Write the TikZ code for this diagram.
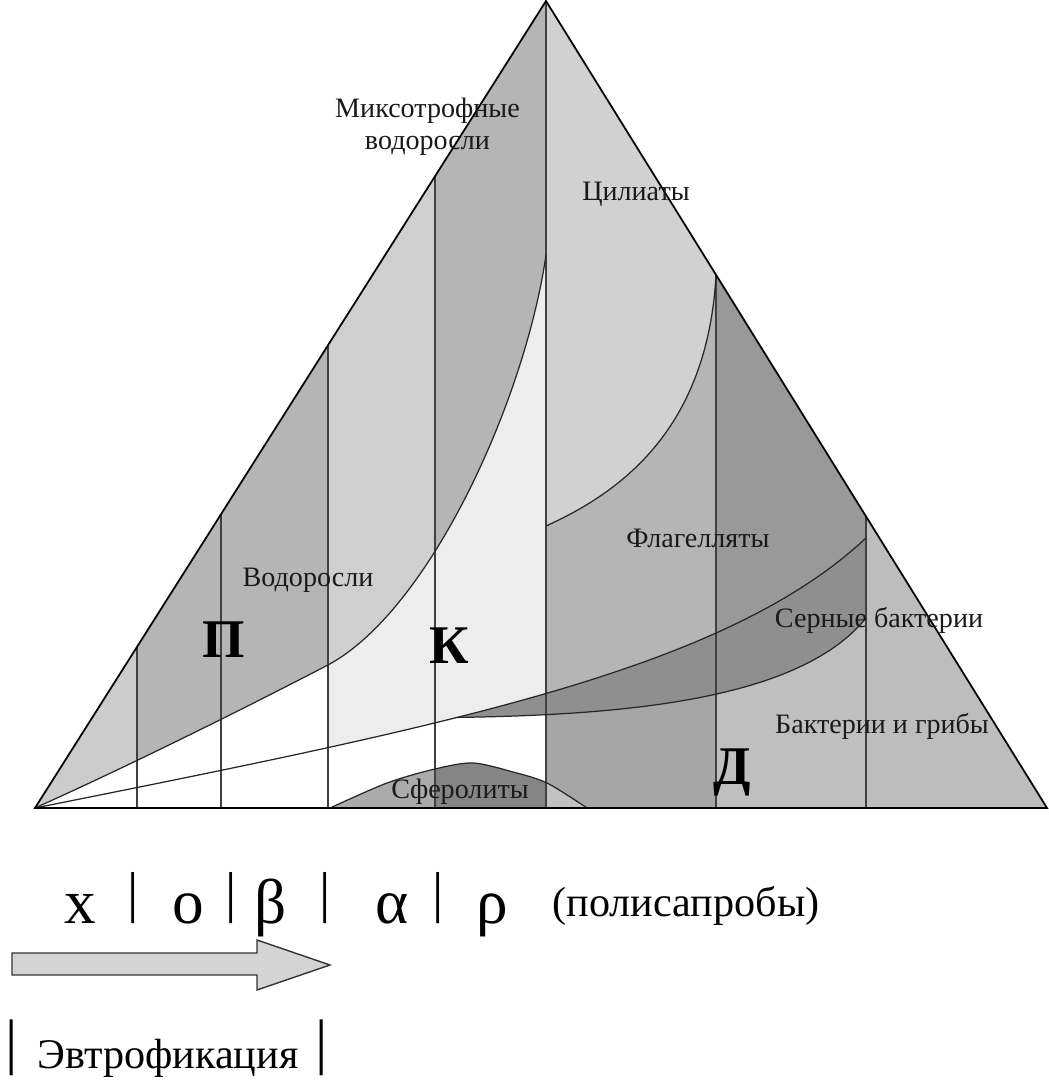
\documentclass[tikz,border=0pt]{standalone}
\usepackage{fontspec}
\setmainfont{Liberation Serif}
\tikzset{
  rim/.style={line width=1pt,black},
  sep/.style={line width=0.9pt,black!75},
  bnd/.style={line width=0.7pt,black!85},
  lbl/.style={inner sep=0pt,text=black!90,font=\fontsize{16}{18}\selectfont},
  big/.style={inner sep=0pt,font=\fontsize{31}{31}\selectfont\bfseries},
  sym/.style={inner sep=0pt,anchor=base,font=\fontsize{36}{36}\selectfont},
  bar/.style={inner sep=0pt,font=\fontsize{32}{32}\selectfont},
  ebar/.style={inner sep=0pt,font=\fontsize{35}{35}\selectfont},
}
\begin{document}
\begin{tikzpicture}
\useasboundingbox (0,0) rectangle (20.96,21.6);
\coordinate (L) at (0.70,5.44);
\coordinate (A) at (10.92,21.58);
\coordinate (R) at (20.94,5.44);
% algae curve
\coordinate (c1m) at (6.56,8.30);
\coordinate (c1e) at (10.92,16.50);
% flagellate line and sulphur band
\coordinate (c2p) at (9.0,7.1);
\coordinate (c2q) at (14.5,8.2);
\coordinate (c2e) at (17.32,10.84);
\coordinate (c3p) at (12.5,7.3);
\coordinate (c3q) at (16.0,7.6);
\coordinate (c3e) at (17.32,9.24);
% ciliate curve
\coordinate (c5s) at (10.92,11.08);
\coordinate (c5e) at (14.32,16.10);
\path (L) .. controls (c2p) and (c2q) .. (c2e) coordinate[pos=0.39] (tip);

\begin{scope}
\clip (L) -- (A) -- (R) -- cycle;
\fill[black!20] (0.70,5.44) rectangle (2.74,21.6);
\fill[black!29] (2.74,5.44) rectangle (6.56,21.6);
\fill[black!19] (6.56,5.44) rectangle (8.70,21.6);
\fill[black!29] (8.70,5.44) rectangle (14.32,21.6);
\fill[black!40] (14.32,5.44) rectangle (17.32,21.6);
\fill[black!26] (17.32,5.44) rectangle (20.96,21.6);
% ciliates
\fill[black!18] (10.92,21.6) -- (c5s) .. controls (12.4,11.75) and (14.15,13.0) .. (c5e) -- cycle;
% under the algae curve
\begin{scope}
\clip (L) .. controls (2.7,6.34) and (4.9,7.44) .. (c1m) .. controls (8.6,9.4) and (10.5,13.6) .. (c1e) -- (c1e |- L) -- cycle;
\fill[white] (0,5.44) rectangle (6.56,21.6);
\fill[black!7] (6.56,5.44) rectangle (10.92,21.6);
\end{scope}
% under the flagellate line
\begin{scope}
\clip (L) .. controls (c2p) and (c2q) .. (c2e) -- (c2e |- L) -- cycle;
\fill[white] (0,5.44) rectangle (tip |- 0,21.6);
\fill[black!44] (tip |- L) rectangle (17.32,21.6);
\end{scope}
% under the sulphur band
\begin{scope}
\clip (tip) .. controls (c3p) and (c3q) .. (c3e) -- (c3e |- L) -- (tip |- L) -- cycle;
\fill[white] (0,5.44) rectangle (10.92,21.6);
\fill[black!35] (10.92,5.44) rectangle (14.32,21.6);
\fill[black!25] (14.32,5.44) rectangle (17.32,21.6);
\end{scope}
% spherolites
\begin{scope}
\clip plot[smooth] coordinates {(6.60,5.44) (7.74,5.94) (8.70,6.22) (9.46,6.34) (10.26,6.16) (10.94,5.94) (11.74,5.44)} -- cycle;
\fill[black!33] (6.56,5.44) rectangle (8.70,7);
\fill[black!48] (8.70,5.44) rectangle (10.92,7);
\fill[black!24] (10.92,5.44) rectangle (11.80,7);
\end{scope}
\end{scope}

\foreach \x/\y in {2.74/8.66,4.42/11.32,6.56/14.70,8.70/18.07,10.92/21.58,14.32/16.10,17.32/11.27}
  \draw[sep] (\x,5.44) -- (\x,\y);
\draw[bnd] (L) .. controls (2.7,6.34) and (4.9,7.44) .. (c1m) .. controls (8.6,9.4) and (10.5,13.6) .. (c1e);
\draw[bnd] (L) .. controls (c2p) and (c2q) .. (c2e);
\draw[bnd] (tip) .. controls (c3p) and (c3q) .. (c3e);
\draw[bnd] (c5s) .. controls (12.4,11.75) and (14.15,13.0) .. (c5e);
\draw[bnd] plot[smooth] coordinates {(6.60,5.44) (7.74,5.94) (8.70,6.22) (9.46,6.34) (10.26,6.16) (10.94,5.94) (11.74,5.44)};
\draw[rim] (L) -- (A) -- (R) -- cycle;

\node[lbl,align=center] (mixo) at (8.55,19.06) {Миксотрофные\\водоросли};
\node[lbl] (cilia) at (12.72,17.72) {Цилиаты};
\node[lbl] (algae) at (6.16,10.0) {Водоросли};
\node[lbl] (flag) at (13.96,10.84) {Флагелляты};
\node[lbl] (sulf) at (17.58,9.20) {Серные бактерии};
\node[lbl] (bact) at (17.64,7.08) {Бактерии и грибы};
\node[lbl] (spher) at (9.20,5.76) {Сферолиты};
\node[big] (P) at (4.48,8.80) {П};
\node[big] (K) at (8.98,8.68) {К};
\node[big,anchor=base] (D) at (14.64,5.90) {Д};

% saprobity scale
\node[sym] (sx) at (1.60,3.12) {x};
\node[bar] (b1) at (2.66,3.64) {|};
\node[sym] (so) at (3.76,3.12) {o};
\node[bar] (b2) at (4.62,3.64) {|};
\node[sym] (sb) at (5.42,3.12) {β};
\node[bar] (b3) at (6.50,3.64) {|};
\node[sym] (sa) at (7.84,3.12) {α};
\node[bar] (b4) at (8.76,3.64) {|};
\node[sym] (sr) at (9.84,3.12) {ρ};
\node[inner sep=0pt,anchor=base,font=\fontsize{24}{24}\selectfont] (poly) at (13.72,3.26) {(полисапробы)};

\filldraw[fill=black!17,draw=black!80,line width=0.8pt] (0.24,2.10) -- (5.14,2.10) -- (5.14,1.80) -- (6.60,2.30) -- (5.14,2.80) -- (5.14,2.54) -- (0.24,2.54) -- cycle;
\node[ebar] (e1) at (0.24,0.65) {|};
\node[inner sep=0pt,anchor=base,font=\fontsize{24}{24}\selectfont] (eutr) at (3.36,0.24) {Эвтрофикация};
\node[ebar] (e2) at (6.44,0.65) {|};
\end{tikzpicture}
\end{document}
